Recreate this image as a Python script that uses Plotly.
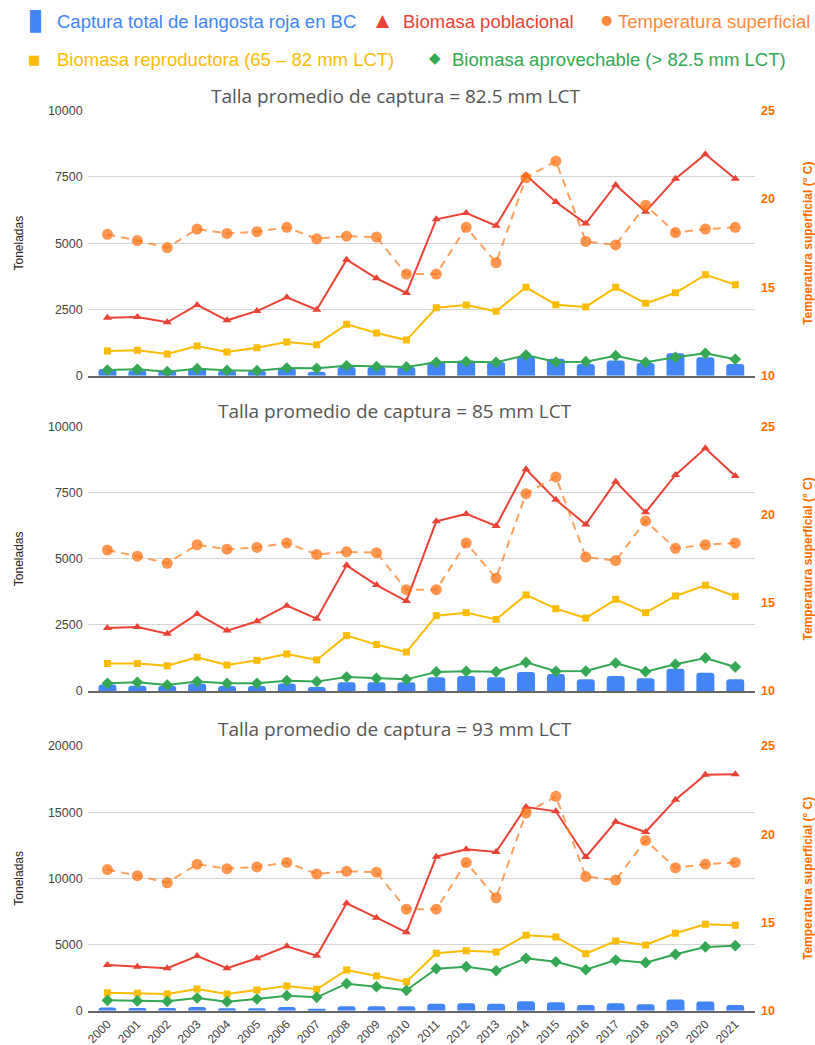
import plotly.graph_objects as go

years = [str(y) for y in range(2000, 2022)]

captura = [250, 200, 200, 280, 190, 190, 280, 150, 330, 330, 330, 520, 570, 520, 720, 640, 440, 570, 480, 845, 695, 440]
temperatura = [18.0, 17.65, 17.25, 18.3, 18.05, 18.15, 18.4, 17.75, 17.9, 17.85, 15.75, 15.75, 18.4, 16.4, 21.2, 22.15, 17.6, 17.4, 19.65, 18.1, 18.3, 18.4]

pob_825 = [2190, 2215, 2015, 2670, 2090, 2440, 2960, 2490, 4380, 3675, 3120, 5900, 6140, 5660, 7560, 6555, 5740, 7200, 6190, 7435, 8355, 7435]
rep_825 = [930, 960, 820, 1120, 895, 1055, 1270, 1170, 1940, 1610, 1345, 2565, 2670, 2430, 3335, 2680, 2595, 3335, 2730, 3130, 3810, 3435]
apr_825 = [215, 240, 150, 265, 205, 190, 290, 280, 375, 340, 330, 505, 530, 505, 780, 515, 530, 755, 505, 695, 845, 620]

pob_85 = [2385, 2420, 2170, 2915, 2285, 2635, 3230, 2735, 4755, 4010, 3405, 6420, 6700, 6245, 8390, 7240, 6295, 7920, 6760, 8175, 9185, 8135]
rep_85 = [1045, 1045, 960, 1275, 985, 1160, 1400, 1175, 2095, 1755, 1475, 2850, 2965, 2710, 3635, 3115, 2760, 3470, 2965, 3595, 4000, 3580]
apr_85 = [290, 330, 225, 355, 290, 290, 390, 355, 530, 480, 440, 720, 745, 730, 1085, 745, 755, 1060, 730, 1010, 1250, 910]

pob_93 = [3455, 3325, 3205, 4135, 3205, 3960, 4865, 4155, 8115, 7025, 5925, 11635, 12195, 11990, 15390, 15065, 11615, 14280, 13500, 15945, 17830, 17870]
rep_93 = [1360, 1315, 1260, 1640, 1260, 1565, 1865, 1615, 3075, 2620, 2190, 4335, 4535, 4435, 5695, 5570, 4305, 5265, 4965, 5850, 6530, 6455]
apr_93 = [785, 735, 710, 960, 680, 885, 1135, 1010, 2040, 1815, 1540, 3175, 3325, 3020, 3960, 3700, 3100, 3830, 3625, 4260, 4815, 4910]

panel_titles = ["Talla promedio de captura = 82.5 mm LCT",
                "Talla promedio de captura = 85 mm LCT",
                "Talla promedio de captura = 93 mm LCT"]
left_max = [10000, 10000, 20000]
left_ticks = [[0, 2500, 5000, 7500, 10000], [0, 2500, 5000, 7500, 10000], [0, 5000, 10000, 15000, 20000]]
panels = [(pob_825, rep_825, apr_825), (pob_85, rep_85, apr_85), (pob_93, rep_93, apr_93)]

legend_names = ["Captura total de langosta roja en BC", "Biomasa poblacional", "Temperatura superficial",
                "Biomasa reproductora (65 – 82 mm LCT)", "Biomasa aprovechable (> 82.5 mm LCT)"]

BLUE = "#4285f4"; RED = "#ea4335"; ORANGE = "#ff6d01"; YELLOW = "#fbbc04"; GREEN = "#34a853"

W, H = 815, 1045
MB = 33  # bottom margin holding the rotated year labels
PH = H - MB
def px(x): return x / W
def py(y): return 1 - y / PH

x0, x1 = 87.7, 755
panel_px = [(110.7, 375.7), (426.7, 691.0), (746.0, 1010.7)]

fig = go.Figure()
layout = dict(width=W, height=H, margin=dict(l=0, r=0, t=0, b=MB, autoexpand=False),
              plot_bgcolor="white", paper_bgcolor="white", showlegend=False,
              bargap=0.4)

for i, (pob, rep, apr) in enumerate(panels):
    k = i + 1
    xa = "x" if k == 1 else f"x{k}"
    ya = f"y{2*k-1}" if k > 1 else "y"
    yb = f"y{2*k}"
    fig.add_trace(go.Bar(x=years, y=captura, name=legend_names[0], marker=dict(color=BLUE, cornerradius=3, line_width=0),
                         xaxis=xa, yaxis=ya))
    fig.add_trace(go.Scatter(x=years, y=pob, name=legend_names[1], mode="lines+markers",
                             line=dict(color=RED, width=2), marker=dict(symbol="triangle-up", size=8, color=RED),
                             xaxis=xa, yaxis=ya))
    fig.add_trace(go.Scatter(x=years, y=rep, name=legend_names[3], mode="lines+markers",
                             line=dict(color=YELLOW, width=2), marker=dict(symbol="square", size=7, color=YELLOW),
                             xaxis=xa, yaxis=ya))
    fig.add_trace(go.Scatter(x=years, y=apr, name=legend_names[4], mode="lines+markers",
                             line=dict(color=GREEN, width=2), marker=dict(symbol="diamond", size=9, color=GREEN),
                             xaxis=xa, yaxis=ya))
    fig.add_trace(go.Scatter(x=years, y=temperatura, name=legend_names[2], mode="lines+markers",
                             line=dict(color="rgba(255,130,40,0.75)", width=2, dash="8px,6px"),
                             marker=dict(symbol="circle", size=11, color="rgba(255,115,20,0.75)"),
                             xaxis=xa, yaxis=yb))

    top, bot = panel_px[i]
    dom = [max(0.0, py(bot)), py(top)]
    xkey = "xaxis" if k == 1 else f"xaxis{k}"
    yakey = "yaxis" if k == 1 else f"yaxis{2*k-1}"
    ybkey = f"yaxis{2*k}"
    layout[xkey] = dict(domain=[px(x0), px(x1)], anchor=ya, type="category", range=[-0.66, 21.66],
                        showgrid=False, showline=True, linecolor="#666", linewidth=1.5, ticks="",
                        showticklabels=(k == 3), tickangle=-45, automargin=False,
                        tickfont=dict(family="Liberation Sans, Arial", size=12, color="#444"))
    layout[yakey] = dict(domain=dom, anchor=xa, range=[0, left_max[i]], tickvals=left_ticks[i],
                         tickformat="d", automargin=False,
                         showgrid=True, gridcolor="#d6d6d6", gridwidth=1, zeroline=False, showline=False,
                         ticks="", ticklabelstandoff=4,
                         tickfont=dict(family="Liberation Sans, Arial", size=12.5, color="#444"),
                         title=dict(text="Toneladas", standoff=21,
                                    font=dict(family="Liberation Sans, Arial", size=12, color="#222")))
    layout[ybkey] = dict(domain=dom, anchor=xa, overlaying=ya, side="right", range=[10, 25],
                         tickvals=[10, 15, 20, 25], showgrid=False, zeroline=False, showline=False, ticks="",
                         ticklabelstandoff=5, automargin=False,
                         tickfont=dict(family="Liberation Sans, Arial", size=12.5, color=ORANGE, weight="bold"),
                         title=dict(text="Temperatura superficial (° C)", standoff=30,
                                    font=dict(family="Liberation Sans, Arial", size=12, color=ORANGE, weight="bold")))

title_y = [96, 411, 729]
annotations = []
for t, yy in zip(panel_titles, title_y):
    annotations.append(dict(text=t, x=px(395), y=py(yy), xref="paper", yref="paper", showarrow=False,
                            xanchor="center", yanchor="middle",
                            font=dict(family="Open Sans", size=19, color="#555")))

LF = "Liberation Sans, Arial"
leg = [
    ("▮", 35.5, 18.5, BLUE, 30, "DejaVu Sans"),
    (legend_names[0], 55, 22, BLUE, 18.5, LF),
    ("▲", 383, 20, RED, 17, "DejaVu Sans"),
    (legend_names[1], 401, 22, RED, 18.5, LF),
    ("●", 606, 20, "#ff8a3d", 13, "DejaVu Sans"),
    (legend_names[2], 616, 22, "#ff8a3d", 18.5, LF),
    ("■", 34, 60, YELLOW, 13, "DejaVu Sans"),
    (legend_names[3], 55, 60, YELLOW, 18.5, LF),
    ("◆", 435, 58, GREEN, 15, "DejaVu Sans"),
    (legend_names[4], 450, 60, GREEN, 18.5, LF),
]
for text, x, y, col, size, fam in leg:
    is_sym = len(text) == 1
    annotations.append(dict(text=text, x=px(x), y=py(y), xref="paper", yref="paper", showarrow=False,
                            xanchor="center" if is_sym else "left", yanchor="middle",
                            font=dict(family=fam, size=size, color=col)))
layout["annotations"] = annotations
fig.update_layout(**layout)
fig.write_html("out.html", config={"displayModeBar": False},
               post_script="document.body.style.margin='0';document.body.style.overflow='hidden';")
